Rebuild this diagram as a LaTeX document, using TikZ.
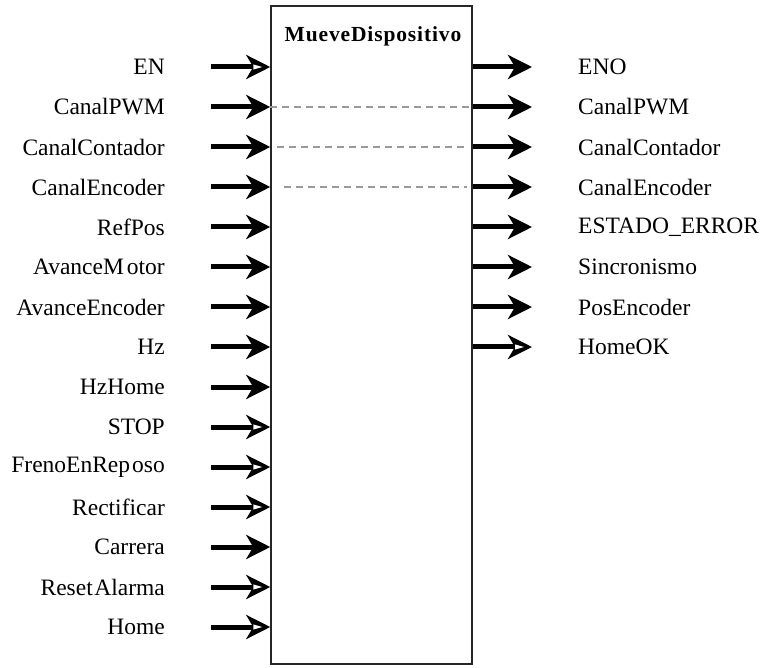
\documentclass[tikz,border=0pt]{standalone}
\usepackage{fontspec}
\setmainfont{Liberation Serif}
\usepackage{tikz}
\usetikzlibrary{arrows.meta, calc, positioning}

\begin{document}
\begin{tikzpicture}[x=1pt, y=-1pt, font=\fontsize{23.5}{25}\selectfont,
    pin/.style={line width=5pt, -{Stealth[length=24pt, width=24pt, inset=7pt]}},
    link/.style={gray!80, line width=1.3pt, dash pattern=on 7pt off 5pt}]
  \useasboundingbox (0,0) rectangle (766,668);

  % function block
  \node[draw=black!85, line width=1.5pt, minimum width=201pt, minimum height=658pt, inner sep=0pt]
    (blk) at (371.5,335) {};
  \node[font=\fontsize{21.5}{23}\selectfont\bfseries\addfontfeatures{LetterSpace=4}] (title) at (373,36) {MueveDispositivo};

  % inputs (white notch = open pin)
  \foreach \name/\lbl/\notch [count=\i] in {en/EN/white, pwmin/CanalPWM/black, cntin/CanalContador/black,
      encin/CanalEncoder/black, refpos/RefPos/black, avmot/AvanceM\kern3pt otor/black, avenc/AvanceEncoder/black,
      hz/Hz/black, hzhome/HzHome/black, stop/STOP/white, freno/FrenoEnRep\kern2pt oso/white,
      rect/Rectificar/white, carrera/Carrera/black, reset/Reset\kern1.5pt Alarma/white, home/Home/white} {
    \node[anchor=east, inner sep=0pt] (\name) at (165,{27+40*\i}) {\lbl};
    \coordinate (\name-s) at (211,{27+40*\i});
    \draw[pin] (\name-s) -- (blk.west |- \name-s);
    \fill[\notch] ($(blk.west |- \name-s)+(-17,-2.6)$) -- ++(9,2.6) -- ++(-9,2.6) -- cycle;
  }

  % outputs
  \foreach \name/\lbl/\notch [count=\i] in {eno/ENO/black, pwmout/CanalPWM/black, cntout/CanalContador/black,
      encout/CanalEncoder/black, err/ESTADO\_ERROR/black, sinc/Sincronismo/black,
      posenc/PosEncoder/black, homeok/HomeOK/white} {
    \node[anchor=west, inner sep=0pt] (\name) at (578,{27+40*\i}) {\lbl};
    \coordinate (\name-e) at (532,{27+40*\i});
    \draw[pin] (blk.east |- \name-e) -- (\name-e);
    \fill[\notch] ($(\name-e)+(-17,-2.6)$) -- ++(9,2.6) -- ++(-9,2.6) -- cycle;
  }

  % pass-through channels
  \draw[link] (blk.west |- pwmin-s) -- (blk.east |- pwmout-e);
  \draw[link] ($(blk.west |- cntin-s)+(7,0)$) -- ($(blk.east |- cntout-e)+(-4,0)$);
  \draw[link] ($(blk.west |- encin-s)+(14,0)$) -- ($(blk.east |- encout-e)+(-6,0)$);
\end{tikzpicture}
\end{document}
